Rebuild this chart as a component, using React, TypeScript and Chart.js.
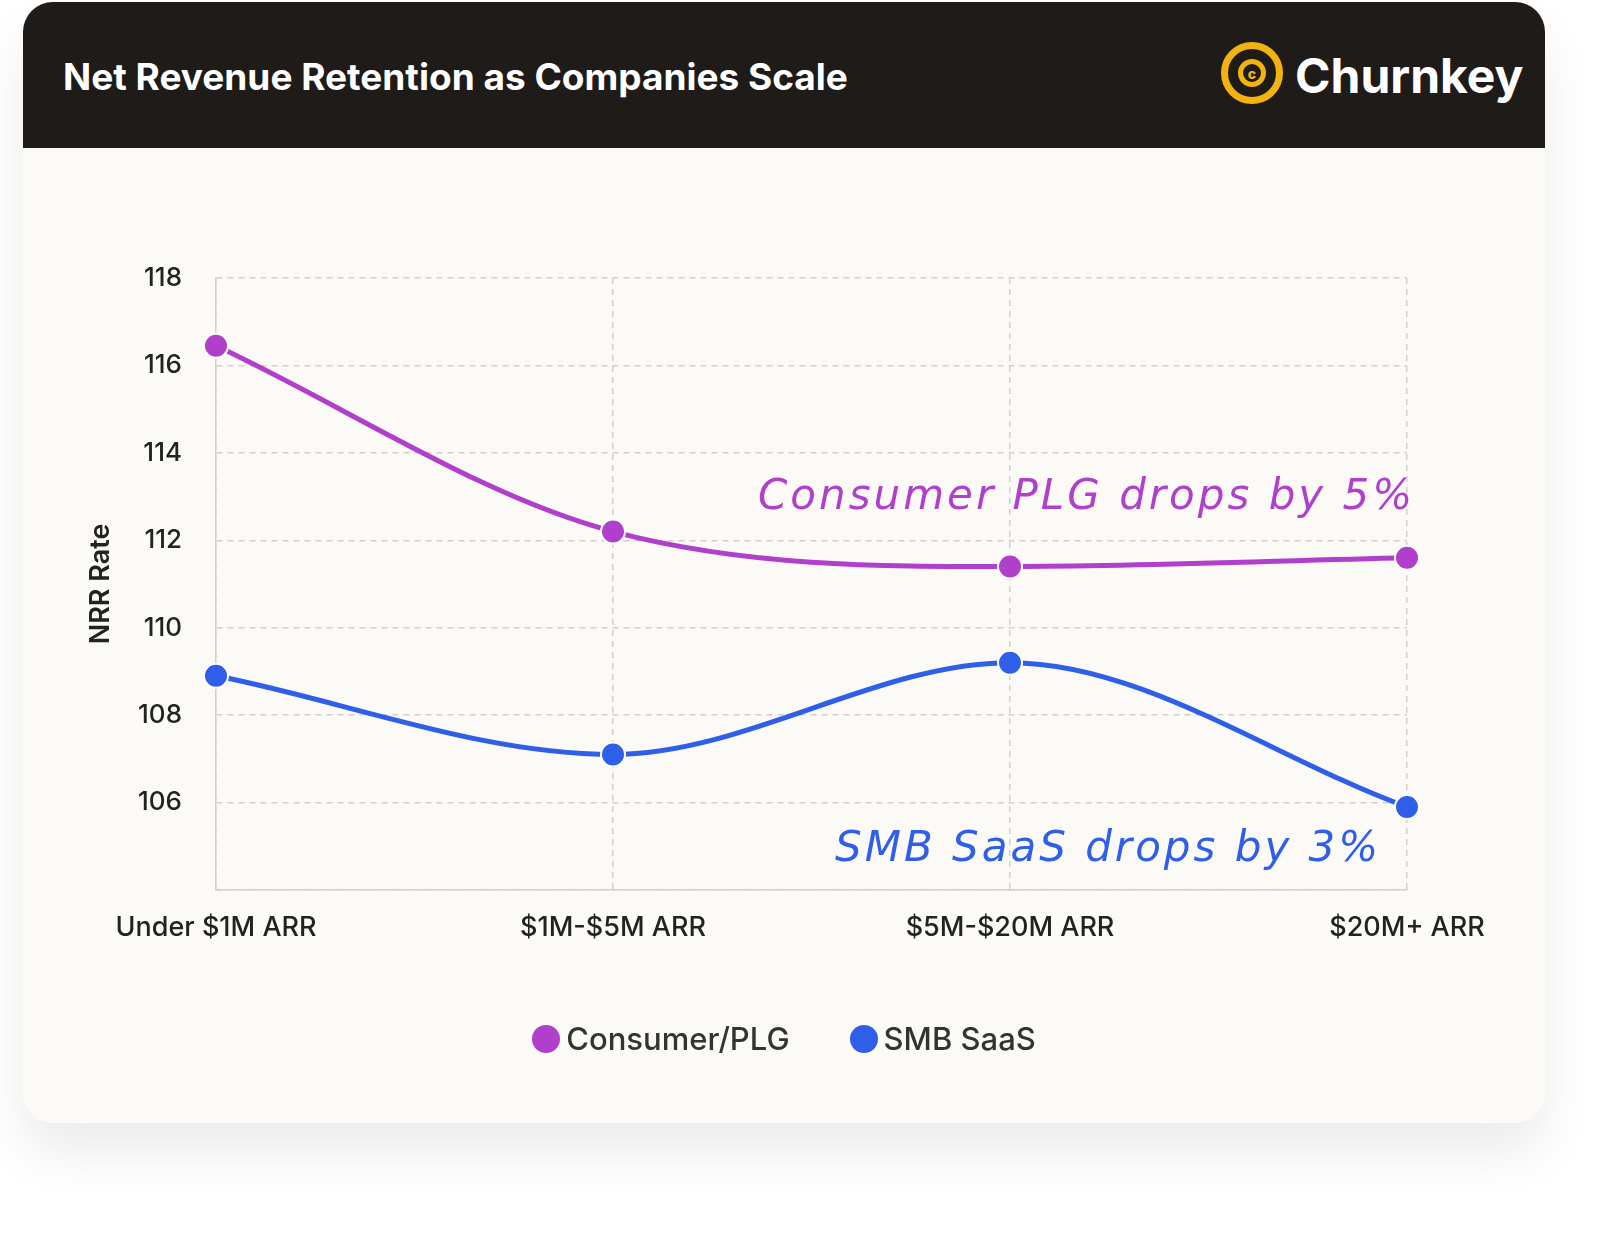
import React, { useEffect, useRef } from "react";
import { Chart, registerables } from "chart.js";
Chart.register(...registerables);

const categories = ["Under $1M ARR", "$1M-$5M ARR", "$5M-$20M ARR", "$20M+ ARR"];
const consumerPLG = [116.45, 112.2, 111.4, 111.6];
const smbSaaS = [108.9, 107.1, 109.2, 105.9];
const yTicks = [104, 106, 108, 110, 112, 114, 116, 118];

const PURPLE = "#b03fcb";
const BLUE = "#2f5ee8";
const FONT = "Inter, 'Noto Sans', sans-serif";

export default function App() {
  const ref = useRef<HTMLCanvasElement>(null);
  useEffect(() => {
    const grid = { color: "#d3cfc9", lineWidth: 1.5, drawTicks: false, borderDash: [6, 5] };
    const border = { display: true, dash: [6, 5], color: "#d3cfc9", width: 1.5 };
    const ds = (label: string, data: number[], c: string) => ({
      label, data, borderColor: c, backgroundColor: c, borderWidth: 5,
      cubicInterpolationMode: "monotone" as const, tension: 0.4, pointRadius: 12, pointHoverRadius: 12,
      pointBorderColor: "#ffffff", pointBorderWidth: 2,
    });
    const chart = new Chart(ref.current!, {
      type: "line",
      data: { labels: categories, datasets: [ds("Consumer/PLG", consumerPLG, PURPLE), ds("SMB SaaS", smbSaaS, BLUE)] },
      options: {
        animation: false, responsive: false, maintainAspectRatio: false,
        layout: { padding: { top: 130, right: 138, bottom: 163, left: 62 } },
        plugins: { legend: { display: false }, tooltip: { enabled: false } },
        scales: {
          x: {
            offset: false,
            grid: { ...grid } as any,
            border: { ...border } as any,
            ticks: { color: "#222", font: { family: FONT, size: 27, weight: 500 }, padding: 22, maxRotation: 0 },
            afterFit: (s: any) => { s.height = 70; },
          },
          y: {
            min: 104, max: 118,
            afterBuildTicks: (s: any) => { s.ticks = yTicks.map((v) => ({ value: v })); },
            grid: { ...grid } as any,
            border: { ...border } as any,
            ticks: { color: "#222", font: { family: FONT, size: 26, weight: 500 }, padding: 34,
              callback: (v: any) => (v === 104 ? "" : String(v)) },
            title: { display: true, text: "NRR Rate", color: "#222", font: { family: FONT, size: 27, weight: 600 }, padding: 0 },
            afterFit: (s: any) => { s.width = 131; },
          },
        },
      },
    });
    return () => chart.destroy();
  }, []);

  const hand = { position: "absolute" as const, fontFamily: "'DejaVu Sans', sans-serif", fontStyle: "italic", fontSize: 42, letterSpacing: 3, whiteSpace: "nowrap" as const };

  return (
    <div style={{ position: "fixed", left: 0, top: 0, width: 1600, height: 1250, overflow: "hidden", background: "#fff", fontFamily: FONT }}>
      <div style={{ position: "absolute", left: 23, top: 2, width: 1522, height: 1121, borderRadius: 30, background: "#fcfaf6", overflow: "hidden", boxShadow: "0 30px 50px rgba(0,0,0,0.08)" }}>
        <div style={{ position: "absolute", left: 0, top: 0, width: 1522, height: 146, background: "#1f1b18" }}>
          <div style={{ position: "absolute", left: 40, top: 52, color: "#fff", fontSize: 37, fontWeight: 700 }}>Net Revenue Retention as Companies Scale</div>
          <div style={{ position: "absolute", left: 1198, top: 40, width: 62, height: 62, borderRadius: "50%", border: "7px solid #f2b311", boxSizing: "border-box", display: "flex", alignItems: "center", justifyContent: "center" }}>
            <div style={{ width: 28, height: 28, borderRadius: "50%", border: "5px solid #f2b311", boxSizing: "border-box", color: "#f2b311", fontSize: 14, fontWeight: 800, display: "flex", alignItems: "center", justifyContent: "center" }}>c</div>
          </div>
          <div style={{ position: "absolute", left: 1272, top: 44, color: "#fff", fontSize: 48, fontWeight: 700 }}>Churnkey</div>
        </div>
        <canvas ref={ref} width={1522} height={975} style={{ position: "absolute", left: 0, top: 146, width: 1522, height: 975 }} />
        <div style={{ ...hand, left: 735, top: 468, color: PURPLE }}>Consumer PLG drops by 5%</div>
        <div style={{ ...hand, left: 812, top: 820, color: BLUE }}>SMB SaaS drops by 3%</div>
        <div style={{ position: "absolute", left: 0, top: 1018, width: 1522, display: "flex", justifyContent: "center", gap: 60, fontSize: 31, fontWeight: 500, color: "#333" }}>
          {[["Consumer/PLG", PURPLE], ["SMB SaaS", BLUE]].map(([t, c]) => (
            <div key={t} style={{ display: "flex", alignItems: "center", gap: 6 }}>
              <span style={{ width: 28, height: 28, borderRadius: "50%", background: c, display: "inline-block" }} />{t}
            </div>
          ))}
        </div>
      </div>
    </div>
  );
}
